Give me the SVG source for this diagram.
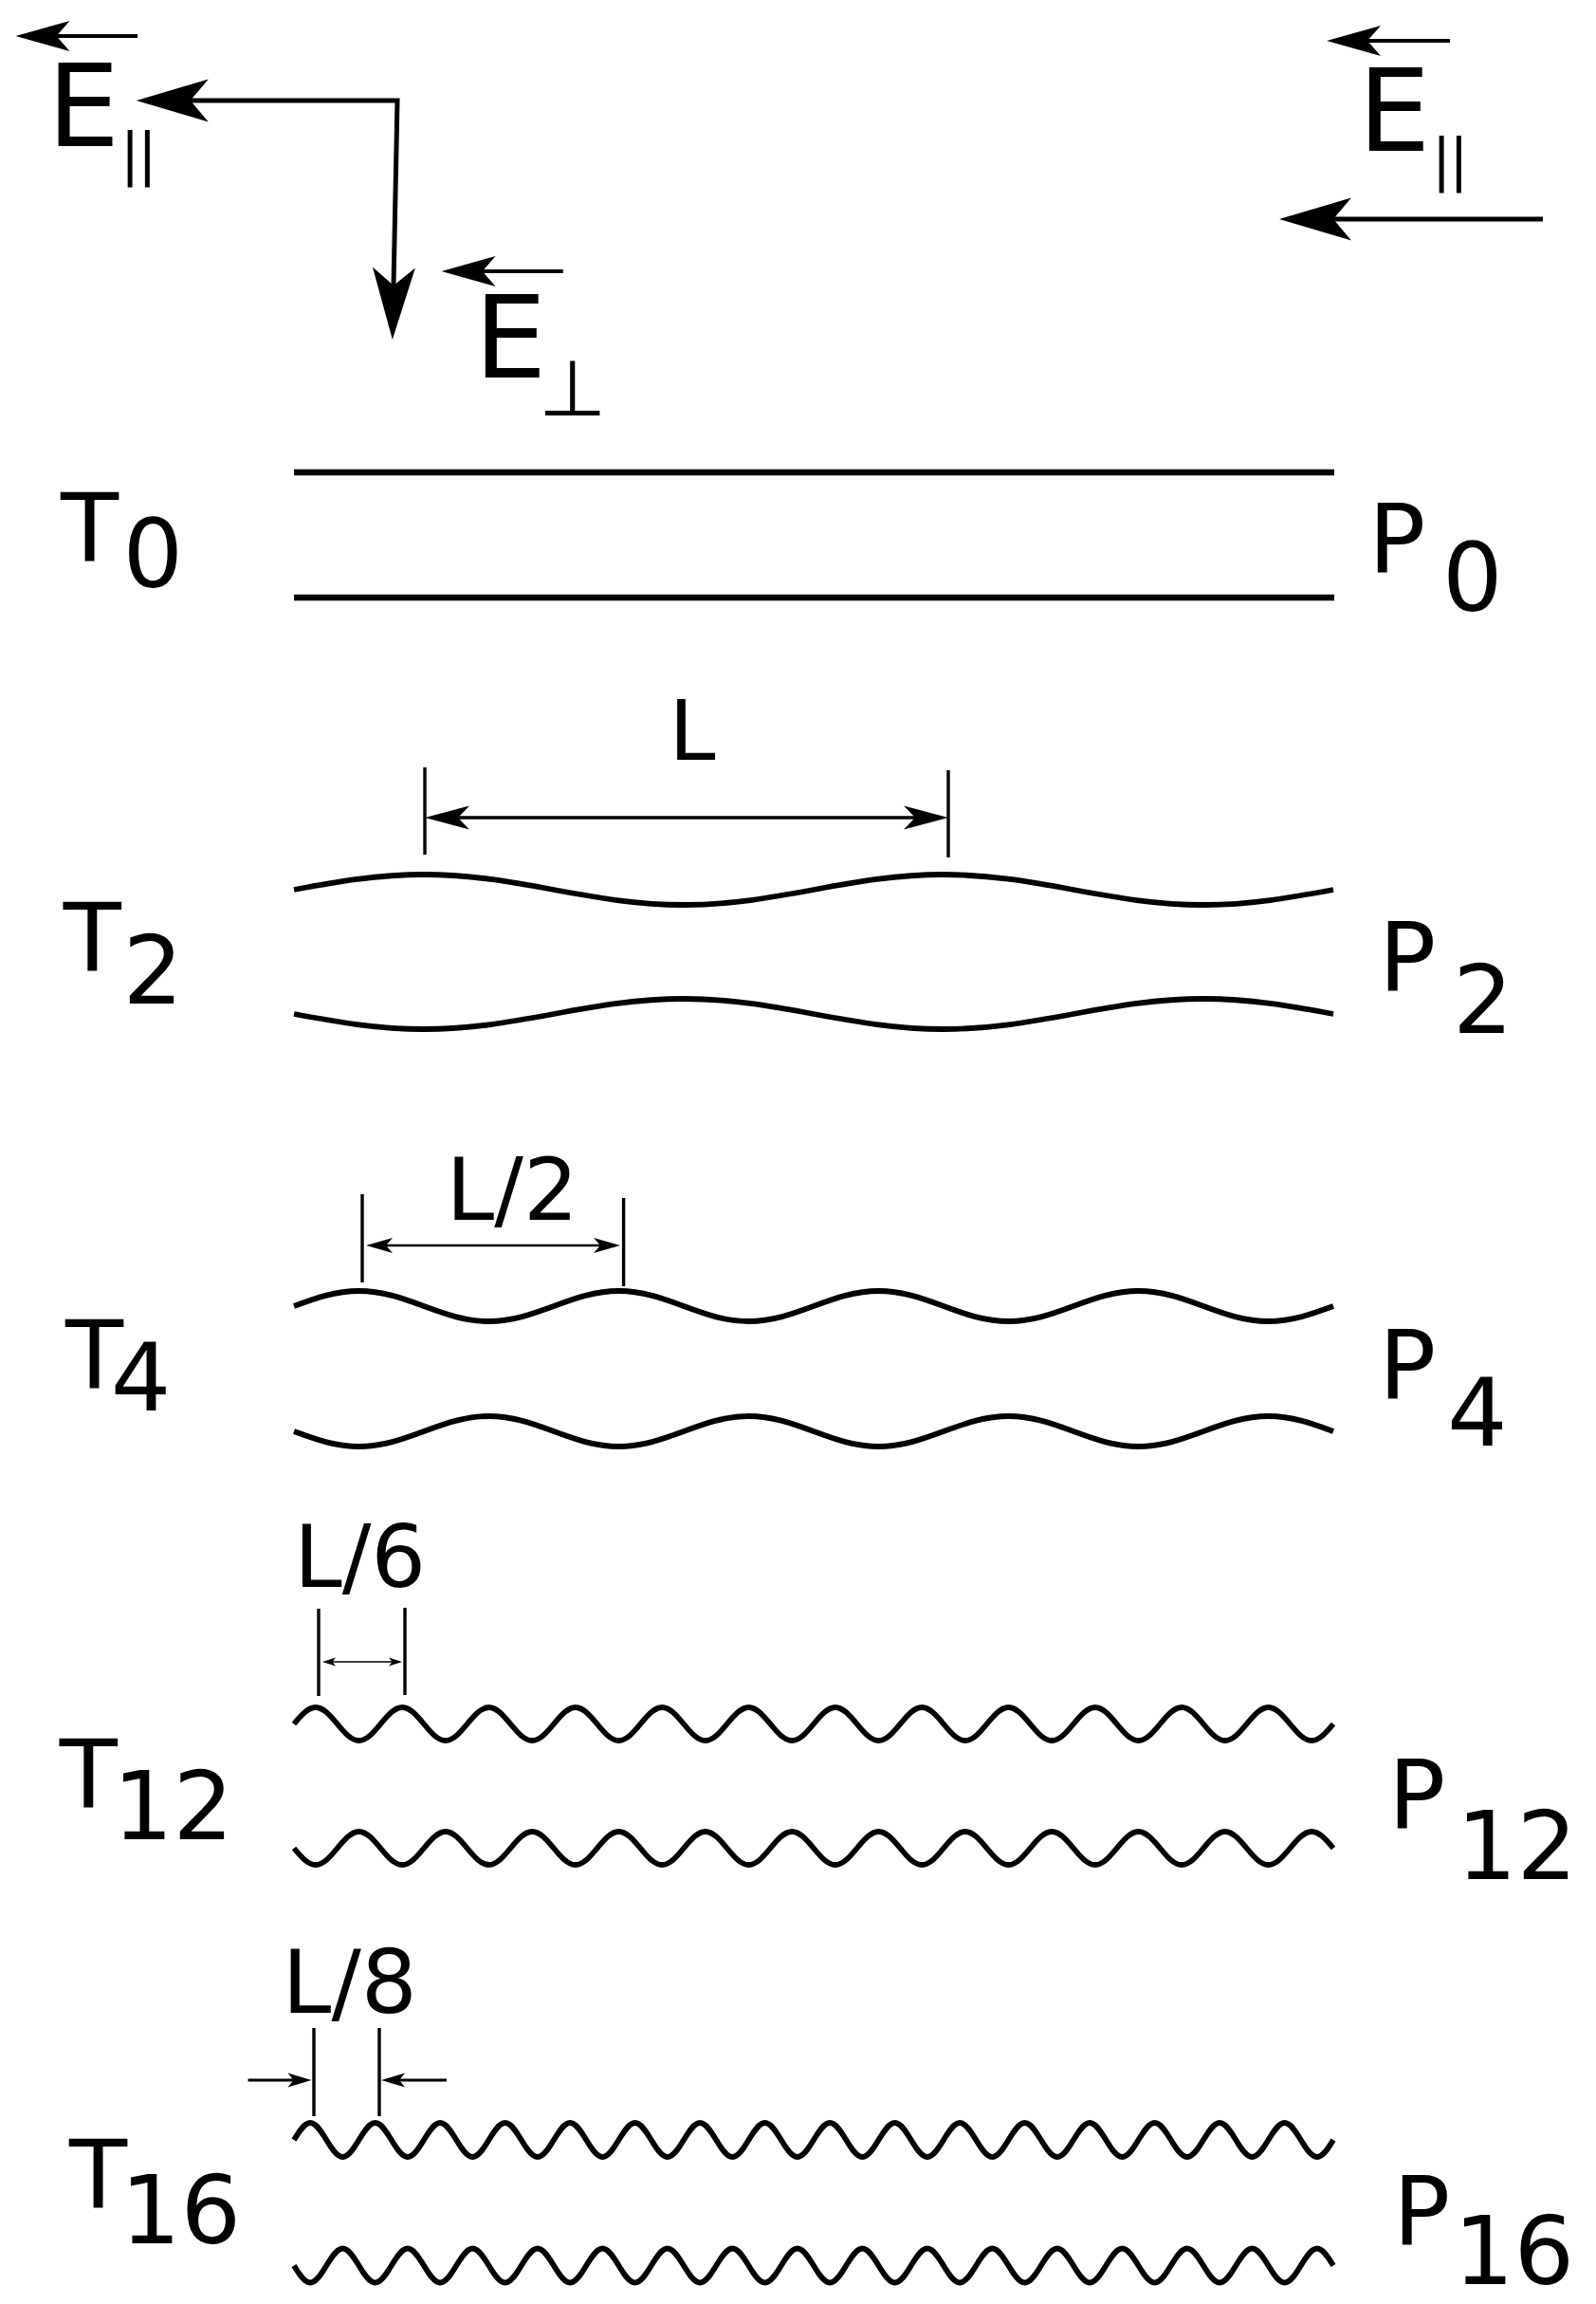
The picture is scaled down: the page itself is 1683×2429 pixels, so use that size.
<svg xmlns="http://www.w3.org/2000/svg" width="1683" height="2429" viewBox="0 0 1683 2429">
<style>
.t{font-family:"DejaVu Sans","Liberation Sans",sans-serif;font-size:100px;fill:#000}
.e{font-size:121px}
.sub{font-size:60px;letter-spacing:-2px}
.perp{font-size:82px}
.d{font-size:91px}
.flat{fill:none;stroke:#000;stroke-width:6.5}
.wave{fill:none;stroke:#000;stroke-width:5.8}
.big{fill:none;stroke:#000;stroke-width:5}
.sm{fill:none;stroke:#000;stroke-width:4}
.tick{fill:none;stroke:#000;stroke-width:3.4}
.dl{fill:none;stroke:#000}
</style>
<defs>
<marker id="hBig" markerUnits="userSpaceOnUse" orient="auto-start-reverse" overflow="visible" markerWidth="1" markerHeight="1"><path d="M57,0 L-19,-22.5 L0,0 L-19,22.5 Z" fill="#000"/></marker>
<marker id="hSm" markerUnits="userSpaceOnUse" orient="auto-start-reverse" overflow="visible" markerWidth="1" markerHeight="1"><path d="M43,0 L-14,-16 L0,0 L-14,16 Z" fill="#000"/></marker>
<marker id="hD2" markerUnits="userSpaceOnUse" orient="auto-start-reverse" overflow="visible" markerWidth="1" markerHeight="1"><path d="M35,0 L-12,-12.5 L0,0 L-12,12.5 Z" fill="#000"/></marker>
<marker id="hD4" markerUnits="userSpaceOnUse" orient="auto-start-reverse" overflow="visible" markerWidth="1" markerHeight="1"><path d="M21,0 L-7,-8 L0,0 L-7,8 Z" fill="#000"/></marker>
<marker id="hD12" markerUnits="userSpaceOnUse" orient="auto-start-reverse" overflow="visible" markerWidth="1" markerHeight="1"><path d="M10.5,0 L-3.5,-4.5 L0,0 L-3.5,4.5 Z" fill="#000"/></marker>
<marker id="hD16" markerUnits="userSpaceOnUse" orient="auto-start-reverse" overflow="visible" markerWidth="1" markerHeight="1"><path d="M19,0 L-6,-7.5 L0,0 L-6,7.5 Z" fill="#000"/></marker>
</defs>
<rect width="1683" height="2429" fill="#fff"/>

<g id="field-labels">
<g id="E-par-left"><text class="t e" x="49.7" y="154">E</text><text class="t sub" x="127" y="183">||</text></g>
<g id="E-perp"><text class="t e" x="500" y="398">E</text><text class="t perp" x="568" y="438">⊥</text></g>
<g id="E-par-right"><text class="t e" x="1432" y="159">E</text><text class="t sub" x="1510" y="189">||</text></g>
</g>

<g id="connectors">
<path class="sm" d="M145,38 L59.5,38" marker-end="url(#hSm)"/>
<path class="big" d="M415,301 L419,106 L200.75,106" marker-start="url(#hBig)" marker-end="url(#hBig)"/>
<path class="sm" d="M593.75,286 L508.6,286" marker-end="url(#hSm)"/>
<path class="sm" d="M1529,43 L1442,43" marker-end="url(#hSm)"/>
<path class="big" d="M1627,231 L1406,231" marker-end="url(#hBig)"/>
</g>

<g id="row-T0">
<text class="t" x="64" y="592">T</text><text class="t" x="129.4" y="618.5">0</text>
<path class="flat" d="M310,498 H1407 M310,630 H1407"/>
<text class="t" x="1443" y="603">P</text><text class="t" x="1521" y="644">0</text>
</g>

<g id="row-T2">
<text class="t" x="66.7" y="1024">T</text><text class="t" x="129.4" y="1058">2</text>
<path class="wave" d="M310,938c44.68,-8.2 87.42,-16 137,-16s92.32,7.8 137,16s87.42,16 137,16s92.32,-7.8 137,-16s87.42,-16 137,-16s92.32,7.8 137,16s87.42,16 137,16s92.32,-7.8 137,-16"/>
<path class="wave" d="M310,1069c44.68,8.2 87.42,16 137,16s92.32,-7.8 137,-16s87.42,-16 137,-16s92.32,7.8 137,16s87.42,16 137,16s92.32,-7.8 137,-16s87.42,-16 137,-16s92.32,7.8 137,16"/>
<text class="t" x="1454" y="1044">P</text><text class="t" x="1532" y="1089">2</text>
</g>
<g id="dim-L">
<text class="t" x="705.4" y="801" style="font-size:88px">L</text>
<path class="tick" d="M448,809 V901 M1000,812 V904"/>
<path class="dl" stroke-width="3.3" d="M483,862 L965,862" marker-start="url(#hD2)" marker-end="url(#hD2)"/>
</g>

<g id="row-T4">
<text class="t" x="69" y="1464">T</text><text class="t" x="116.7" y="1487">4</text>
<path class="wave" d="M310,1377c22.34,-8.2 43.71,-16 68.5,-16s46.16,7.8 68.5,16s43.71,16 68.5,16s46.16,-7.8 68.5,-16s43.71,-16 68.5,-16s46.16,7.8 68.5,16s43.71,16 68.5,16s46.16,-7.8 68.5,-16s43.71,-16 68.5,-16s46.16,7.8 68.5,16s43.71,16 68.5,16s46.16,-7.8 68.5,-16s43.71,-16 68.5,-16s46.16,7.8 68.5,16s43.71,16 68.5,16s46.16,-7.8 68.5,-16"/>
<path class="wave" d="M310,1509c22.34,8.2 43.71,16 68.5,16s46.16,-7.8 68.5,-16s43.71,-16 68.5,-16s46.16,7.8 68.5,16s43.71,16 68.5,16s46.16,-7.8 68.5,-16s43.71,-16 68.5,-16s46.16,7.8 68.5,16s43.71,16 68.5,16s46.16,-7.8 68.5,-16s43.71,-16 68.5,-16s46.16,7.8 68.5,16s43.71,16 68.5,16s46.16,-7.8 68.5,-16s43.71,-16 68.5,-16s46.16,7.8 68.5,16"/>
<text class="t" x="1454" y="1474">P</text><text class="t" x="1526" y="1524">4</text>
</g>
<g id="dim-L2">
<text class="t d" x="470.6" y="1286">L/2</text>
<path class="tick" d="M382,1259 V1352 M657.6,1263 V1356"/>
<path class="dl" stroke-width="2.6" d="M407,1313 L633,1313" marker-start="url(#hD4)" marker-end="url(#hD4)"/>
</g>

<g id="row-T12">
<text class="t" x="62.7" y="1906">T</text><text class="t" x="119" y="1938.5">12</text>
<path class="wave" d="M310,1817.5c7.446,-8.965 14.57,-17.5 22.833,-17.5s15.39,8.535 22.833,17.5s14.57,17.5 22.833,17.5s15.39,-8.535 22.833,-17.5s14.57,-17.5 22.833,-17.5s15.39,8.535 22.833,17.5s14.57,17.5 22.833,17.5s15.39,-8.535 22.833,-17.5s14.57,-17.5 22.833,-17.5s15.39,8.535 22.833,17.5s14.57,17.5 22.833,17.5s15.39,-8.535 22.833,-17.5s14.57,-17.5 22.833,-17.5s15.39,8.535 22.833,17.5s14.57,17.5 22.833,17.5s15.39,-8.535 22.833,-17.5s14.57,-17.5 22.833,-17.5s15.39,8.535 22.833,17.5s14.57,17.5 22.833,17.5s15.39,-8.535 22.833,-17.5s14.57,-17.5 22.833,-17.5s15.39,8.535 22.833,17.5s14.57,17.5 22.833,17.5s15.39,-8.535 22.833,-17.5s14.57,-17.5 22.833,-17.5s15.39,8.535 22.833,17.5s14.57,17.5 22.833,17.5s15.39,-8.535 22.833,-17.5s14.57,-17.5 22.833,-17.5s15.39,8.535 22.833,17.5s14.57,17.5 22.833,17.5s15.39,-8.535 22.833,-17.5s14.57,-17.5 22.833,-17.5s15.39,8.535 22.833,17.5s14.57,17.5 22.833,17.5s15.39,-8.535 22.833,-17.5s14.57,-17.5 22.833,-17.5s15.39,8.535 22.833,17.5s14.57,17.5 22.833,17.5s15.39,-8.535 22.833,-17.5s14.57,-17.5 22.833,-17.5s15.39,8.535 22.833,17.5s14.57,17.5 22.833,17.5s15.39,-8.535 22.833,-17.5s14.57,-17.5 22.833,-17.5s15.39,8.535 22.833,17.5s14.57,17.5 22.833,17.5s15.39,-8.535 22.833,-17.5"/>
<path class="wave" d="M310,1948.5c7.446,8.965 14.57,17.5 22.833,17.5s15.39,-8.535 22.833,-17.5s14.57,-17.5 22.833,-17.5s15.39,8.535 22.833,17.5s14.57,17.5 22.833,17.5s15.39,-8.535 22.833,-17.5s14.57,-17.5 22.833,-17.5s15.39,8.535 22.833,17.5s14.57,17.5 22.833,17.5s15.39,-8.535 22.833,-17.5s14.57,-17.5 22.833,-17.5s15.39,8.535 22.833,17.5s14.57,17.5 22.833,17.5s15.39,-8.535 22.833,-17.5s14.57,-17.5 22.833,-17.5s15.39,8.535 22.833,17.5s14.57,17.5 22.833,17.5s15.39,-8.535 22.833,-17.5s14.57,-17.5 22.833,-17.5s15.39,8.535 22.833,17.5s14.57,17.5 22.833,17.5s15.39,-8.535 22.833,-17.5s14.57,-17.5 22.833,-17.5s15.39,8.535 22.833,17.5s14.57,17.5 22.833,17.5s15.39,-8.535 22.833,-17.5s14.57,-17.5 22.833,-17.5s15.39,8.535 22.833,17.5s14.57,17.5 22.833,17.5s15.39,-8.535 22.833,-17.5s14.57,-17.5 22.833,-17.5s15.39,8.535 22.833,17.5s14.57,17.5 22.833,17.5s15.39,-8.535 22.833,-17.5s14.57,-17.5 22.833,-17.5s15.39,8.535 22.833,17.5s14.57,17.5 22.833,17.5s15.39,-8.535 22.833,-17.5s14.57,-17.5 22.833,-17.5s15.39,8.535 22.833,17.5s14.57,17.5 22.833,17.5s15.39,-8.535 22.833,-17.5s14.57,-17.5 22.833,-17.5s15.39,8.535 22.833,17.5s14.57,17.5 22.833,17.5s15.39,-8.535 22.833,-17.5s14.57,-17.5 22.833,-17.5s15.39,8.535 22.833,17.5"/>
<text class="t" x="1464" y="1927">P</text><text class="t" x="1536" y="1981">12</text>
</g>
<g id="dim-L6">
<text class="t d" x="310" y="1673">L/6</text>
<path class="tick" d="M336,1696 V1788 M427,1695 V1787"/>
<path class="dl" stroke-width="1.6" d="M350.5,1752 L413.5,1752" marker-start="url(#hD12)" marker-end="url(#hD12)"/>
</g>

<g id="row-T16">
<text class="t" x="73" y="2328">T</text><text class="t" x="127" y="2364.5">16</text>
<path class="wave" d="M310,2256c5.585,-9.22 10.93,-18 17.125,-18s11.54,8.78 17.125,18s10.93,18 17.125,18s11.54,-8.78 17.125,-18s10.93,-18 17.125,-18s11.54,8.78 17.125,18s10.93,18 17.125,18s11.54,-8.78 17.125,-18s10.93,-18 17.125,-18s11.54,8.78 17.125,18s10.93,18 17.125,18s11.54,-8.78 17.125,-18s10.93,-18 17.125,-18s11.54,8.78 17.125,18s10.93,18 17.125,18s11.54,-8.78 17.125,-18s10.93,-18 17.125,-18s11.54,8.78 17.125,18s10.93,18 17.125,18s11.54,-8.78 17.125,-18s10.93,-18 17.125,-18s11.54,8.78 17.125,18s10.93,18 17.125,18s11.54,-8.78 17.125,-18s10.93,-18 17.125,-18s11.54,8.78 17.125,18s10.93,18 17.125,18s11.54,-8.78 17.125,-18s10.93,-18 17.125,-18s11.54,8.78 17.125,18s10.93,18 17.125,18s11.54,-8.78 17.125,-18s10.93,-18 17.125,-18s11.54,8.78 17.125,18s10.93,18 17.125,18s11.54,-8.78 17.125,-18s10.93,-18 17.125,-18s11.54,8.78 17.125,18s10.93,18 17.125,18s11.54,-8.78 17.125,-18s10.93,-18 17.125,-18s11.54,8.78 17.125,18s10.93,18 17.125,18s11.54,-8.78 17.125,-18s10.93,-18 17.125,-18s11.54,8.78 17.125,18s10.93,18 17.125,18s11.54,-8.78 17.125,-18s10.93,-18 17.125,-18s11.54,8.78 17.125,18s10.93,18 17.125,18s11.54,-8.78 17.125,-18s10.93,-18 17.125,-18s11.54,8.78 17.125,18s10.93,18 17.125,18s11.54,-8.78 17.125,-18s10.93,-18 17.125,-18s11.54,8.78 17.125,18s10.93,18 17.125,18s11.54,-8.78 17.125,-18s10.93,-18 17.125,-18s11.54,8.78 17.125,18s10.93,18 17.125,18s11.54,-8.78 17.125,-18"/>
<path class="wave" d="M310,2388.5
c5.585,9.22 10.93,18 17.125,18s11.54,-8.78 17.125,-18s10.93,-18 17.125,-18s11.54,8.78 17.125,18
s10.93,18 17.125,18s11.54,-8.78 17.125,-18s10.93,-18 17.125,-18s11.54,8.78 17.125,18
s10.93,18 17.125,18s11.54,-8.78 17.125,-18s10.93,-18 17.125,-18s11.54,8.78 17.125,18
s10.93,18 17.125,18s11.54,-8.78 17.125,-18s10.93,-18 17.125,-18s11.54,8.78 17.125,18
s10.93,18 17.125,18s11.54,-8.78 17.125,-18s10.93,-18 17.125,-18s11.54,8.78 17.125,18
s10.93,18 17.125,18s11.54,-8.78 17.125,-18s10.93,-18 17.125,-18s11.54,8.78 17.125,18
s10.93,18 17.125,18s11.54,-8.78 17.125,-18s10.93,-18 17.125,-18s11.54,8.78 17.125,18
s10.93,18 17.125,18s11.54,-8.78 17.125,-18s10.93,-18 17.125,-18s11.54,8.78 17.125,18
s10.93,18 17.125,18s11.54,-8.78 17.125,-18s10.93,-18 17.125,-18s11.54,8.78 17.125,18
s10.93,18 17.125,18s11.54,-8.78 17.125,-18s10.93,-18 17.125,-18s11.54,8.78 17.125,18
s10.93,18 17.125,18s11.54,-8.78 17.125,-18s10.93,-18 17.125,-18s11.54,8.78 17.125,18
s10.93,18 17.125,18s11.54,-8.78 17.125,-18s10.93,-18 17.125,-18s11.54,8.78 17.125,18
s10.93,18 17.125,18s11.54,-8.78 17.125,-18s10.93,-18 17.125,-18s11.54,8.78 17.125,18
s10.93,18 17.125,18s11.54,-8.78 17.125,-18s10.93,-18 17.125,-18s11.54,8.78 17.125,18
s10.93,18 17.125,18s11.54,-8.78 17.125,-18s10.93,-18 17.125,-18s11.54,8.78 17.125,18
s10.93,18 17.125,18s11.54,-8.78 17.125,-18s10.93,-18 17.125,-18s11.54,8.78 17.125,18"/>
<text class="t" x="1469" y="2366">P</text><text class="t" x="1533" y="2408">16</text>
</g>
<g id="dim-L8">
<text class="t d" x="297.6" y="2122" style="font-size:93px">L/8</text>
<path class="tick" d="M331,2138 V2231 M400,2138 V2231"/>
<path class="dl" stroke-width="3.2" d="M261.5,2193 L309.5,2193" marker-end="url(#hD16)"/>
<path class="dl" stroke-width="3.2" d="M471,2193 L421,2193" marker-end="url(#hD16)"/>
</g>
</svg>
